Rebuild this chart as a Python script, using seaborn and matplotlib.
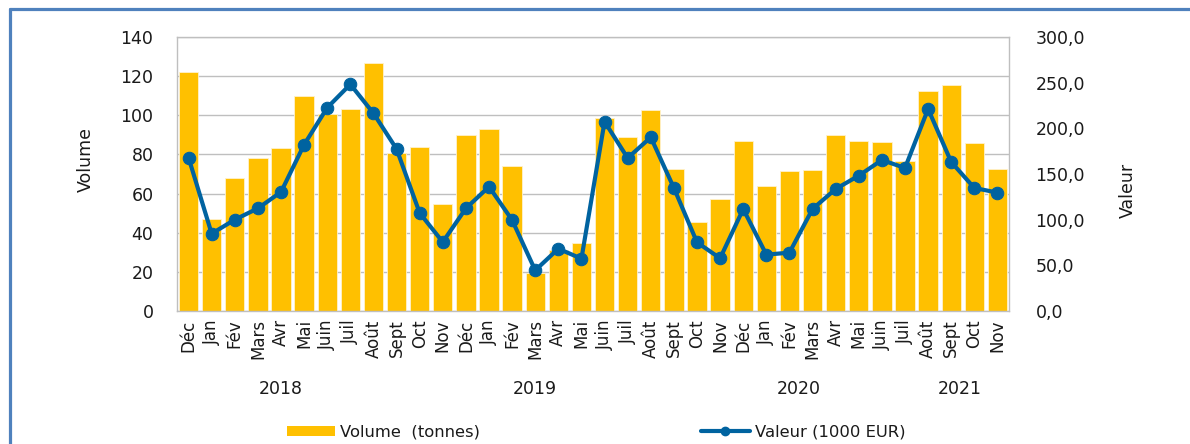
import matplotlib
matplotlib.use("Agg")
import matplotlib.pyplot as plt
from matplotlib.lines import Line2D
from matplotlib.patches import Patch
from matplotlib.ticker import FuncFormatter, MultipleLocator
import numpy as np
import pandas as pd
import seaborn as sns

# Monthly series, Dec 2017 -> Nov 2021
months = ["Déc", "Jan", "Fév", "Mars", "Avr", "Mai", "Juin", "Juil", "Août", "Sept", "Oct", "Nov",
          "Déc", "Jan", "Fév", "Mars", "Avr", "Mai", "Juin", "Juil", "Août", "Sept", "Oct", "Nov",
          "Déc", "Jan", "Fév", "Mars", "Avr", "Mai", "Juin", "Juil", "Août", "Sept", "Oct", "Nov"]

volume_tonnes = [122, 47, 68, 78, 83.5, 110, 100.5, 103, 126.7, 80.7, 84, 54.8,
                 89.8, 93, 73.9, 19.3, 31.2, 34.9, 98.6, 89.1, 102.5, 72.4, 45.6, 57.4,
                 87, 64, 71.5, 72, 89.9, 86.9, 86.2, 76.8, 112.6, 115.3, 85.8, 72.6]

valeur_keur = [167.9, 84.7, 100, 112.4, 130.3, 182.1, 222.6, 248.2, 216.5, 177.4, 107.3, 75.5,
               112.4, 136.1, 99.6, 44.5, 68.2, 57.3, 207.3, 167.5, 190.2, 134.7, 75.2, 57.7,
               111.7, 61.7, 63.9, 111.7, 133.6, 148.2, 165.3, 156.6, 221.2, 163.1, 134.7, 129.6]

years = ["2018", "2019", "2020", "2021"]
year_label_pos = [4.0, 15.0, 26.4, 33.35]

BAR_COLOR = "#FFC000"
LINE_COLOR = "#0063A0"
GRID_COLOR = "#BFBFBF"
TEXT_COLOR = "#1A1A1A"
FRAME_COLOR = "#4F81BD"

sns.set_theme(style="white")
plt.rcParams["font.family"] = ["DejaVu Sans"]
plt.rcParams["text.color"] = TEXT_COLOR
plt.rcParams["xtick.color"] = TEXT_COLOR
plt.rcParams["ytick.color"] = TEXT_COLOR

df = pd.DataFrame({
    "pos": np.arange(len(months)),
    "volume": volume_tonnes,
    "valeur": valeur_keur,
})

fig = plt.figure(figsize=(11.9, 4.44), dpi=100)
ax = fig.add_axes([177 / 1190, 1 - 311 / 444, (1009 - 177) / 1190, (311 - 37) / 444])

sns.barplot(data=df, x="pos", y="volume", color=BAR_COLOR, saturation=1,
            width=0.84, edgecolor="#FFF2CC", linewidth=0.6, ax=ax, zorder=2)

ax.set_ylim(0, 140)
ax.yaxis.set_major_locator(MultipleLocator(20))
ax.set_xlim(-0.5, len(months) - 0.5)
ax.set_axisbelow(True)
ax.grid(axis="y", color=GRID_COLOR, linewidth=1)
ax.grid(axis="x", visible=False)
ax.set_xticks(df["pos"])
ax.set_xticklabels(months, rotation=90, fontsize=12)
ax.tick_params(axis="x", length=0, pad=6)
ax.tick_params(axis="y", length=0, pad=17, labelsize=12.5)
ax.set_xlabel("")
ax.set_ylabel("")
for s in ax.spines.values():
    s.set_color(GRID_COLOR)
    s.set_linewidth(1)

ax2 = ax.twinx()
sns.lineplot(data=df, x="pos", y="valeur", color=LINE_COLOR, linewidth=3,
             marker="o", markersize=9, markeredgecolor=LINE_COLOR, ax=ax2, zorder=3)
ax2.set_ylim(0, 300)
ax2.yaxis.set_major_locator(MultipleLocator(50))
ax2.yaxis.set_major_formatter(FuncFormatter(lambda v, p: f"{v:.1f}".replace(".", ",")))
ax2.tick_params(axis="y", length=0, pad=19, labelsize=12.5)
ax2.set_ylabel("")
ax2.set_xlabel("")
ax2.grid(False)
for s in ax2.spines.values():
    s.set_visible(False)

# Year labels under the month labels
xtrans = ax.get_xaxis_transform()
for yr, pos in zip(years, year_label_pos):
    ax.text(pos, -0.285, yr, transform=xtrans, ha="center", va="center", fontsize=12.5)

# Axis titles
fig.text(86 / 1190, 1 - 159 / 444, "Volume", rotation=90, ha="center", va="center", fontsize=12.5)
fig.text(1128 / 1190, 1 - 190 / 444, "Valeur", rotation=90, ha="center", va="center", fontsize=12.5)

# Legend
handles = [
    Patch(facecolor=BAR_COLOR, edgecolor="none"),
    Line2D([0], [0], color=LINE_COLOR, linewidth=3, marker="o", markersize=6),
]
fig.legend(handles, ["Volume  (tonnes)", "Valeur (1000 EUR)"], loc="center",
           bbox_to_anchor=(596 / 1190, 1 - 432 / 444), ncol=2, frameon=False,
           fontsize=11.8, handlelength=2.95, handleheight=0.6, handletextpad=0.3,
           columnspacing=13.5)

# Blue frame around the figure block
fig.add_artist(Line2D([9.5 / 1190, 1], [1 - 9.5 / 444, 1 - 9.5 / 444],
                      transform=fig.transFigure, color=FRAME_COLOR, linewidth=2.3))
fig.add_artist(Line2D([9.5 / 1190, 9.5 / 1190], [0, 1 - 9.5 / 444],
                      transform=fig.transFigure, color=FRAME_COLOR, linewidth=2.3))

fig.savefig("out.png", dpi=100)
